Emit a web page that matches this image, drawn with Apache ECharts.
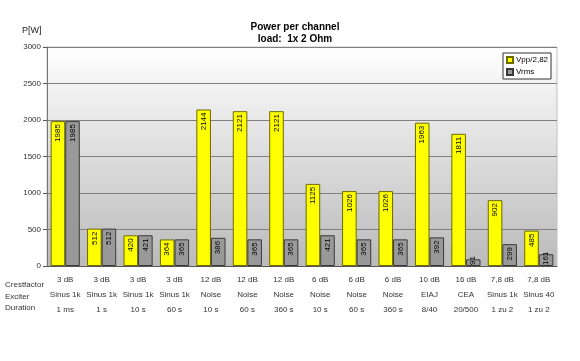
<!DOCTYPE html>
<html><head><meta charset="utf-8">
<script src="https://cdn.jsdelivr.net/npm/echarts@6/dist/echarts.min.js"></script>
<style>html,body{margin:0;padding:0;background:#fff}#c{width:580px;height:361px}</style>
</head><body><div id="c"></div>
<script>
const crest = ['3 dB','3 dB','3 dB','3 dB','12 dB','12 dB','12 dB','6 dB','6 dB','6 dB','10 dB','16 dB','7,8 dB','7,8 dB'];
const exciter = ['Sinus 1k','Sinus 1k','Sinus 1k','Sinus 1k','Noise','Noise','Noise','Noise','Noise','Noise','EIAJ','CEA','Sinus 1k','Sinus 40'];
const duration = ['1 ms','1 s','10 s','60 s','10 s','60 s','360 s','10 s','60 s','360 s','8/40','20/500','1 zu 2','1 zu 2'];
const vpp = [1985,512,420,364,2144,2121,2121,1125,1026,1026,1963,1811,902,485];
const vrms = [1985,512,421,365,386,365,365,421,365,365,392,91,299,161];
const yTicks = [0,500,1000,1500,2000,2500,3000];
const rowNames = ['Crestfactor','Exciter','Duration'];

const cats = crest.map((c,i)=>i);
const font = '"Liberation Sans", Arial, sans-serif';
const chart = echarts.init(document.getElementById('c'));
const lbl = {show:true, position:'insideTop', rotate:90, align:'right', verticalAlign:'middle', distance:3, fontSize:8, color:'#000', fontFamily:font};
const lowLbl = {position:'insideBottom', align:'left', distance:1};
const items = arr => arr.map(v => v < 200 ? {value:v, label:lowLbl} : v);
chart.setOption({
  animation:false,
  textStyle:{fontFamily:font},
  title:{text:'Power per channel\nload:  1x 2 Ohm', left:290, textAlign:'center', top:16,
    textStyle:{fontSize:10, fontWeight:'bold', color:'#000', lineHeight:12, fontFamily:font}},
  legend:{orient:'vertical', left:503, top:53, data:['Vpp/2,82','Vrms'], itemWidth:6, itemHeight:6, itemGap:4,
    padding:[3,3,3,3], borderColor:'#333', borderWidth:1, backgroundColor:'#fff', icon:'rect',
    textStyle:{fontSize:8, color:'#000', fontFamily:font, padding:[0,0,0,-2]}},
  grid:{left:47, right:23, top:47, bottom:95, show:true, borderColor:'#c0c0c0', borderWidth:1,
    backgroundColor:new echarts.graphic.LinearGradient(0,0,0,1,[{offset:0,color:'#ffffff'},{offset:1,color:'#bababa'}])},
  xAxis:{type:'category', data:cats,
    axisLine:{lineStyle:{color:'#555'}},
    axisTick:{length:52, lineStyle:{color:'#666'}},
    axisLabel:{margin:6, interval:0, fontSize:8, color:'#333', lineHeight:15,
      formatter:(v,i)=>crest[i]+'\n'+exciter[i]+'\n'+duration[i]}},
  yAxis:{type:'value', min:yTicks[0], max:yTicks[yTicks.length-1], interval:500,
    axisLine:{show:true, lineStyle:{color:'#777'}},
    axisTick:{show:true, length:4, lineStyle:{color:'#555'}},
    axisLabel:{fontSize:8, color:'#333', margin:6, formatter:v=>String(v)},
    splitLine:{lineStyle:{color:'#808080', width:1}}},
  graphic:[
    {type:'text', left:22, top:26, style:{text:'P[W]', fill:'#222', font:'9px '+font}},
    ...rowNames.map((t,i)=>({type:'text', left:5, top:[281,293,304][i], style:{text:t, fill:'#333', font:'8px '+font}}))
  ],
  series:[
    {name:'Vpp/2,82', type:'bar', data:items(vpp), barGap:'0%', barCategoryGap:'20%',
      itemStyle:{color:'#ffff00', borderColor:'#6b6b00', borderWidth:1}, label:lbl},
    {name:'Vrms', type:'bar', data:items(vrms),
      itemStyle:{color:'#999999', borderColor:'#3a3a3a', borderWidth:1}, label:lbl}
  ]
});
</script></body></html>
